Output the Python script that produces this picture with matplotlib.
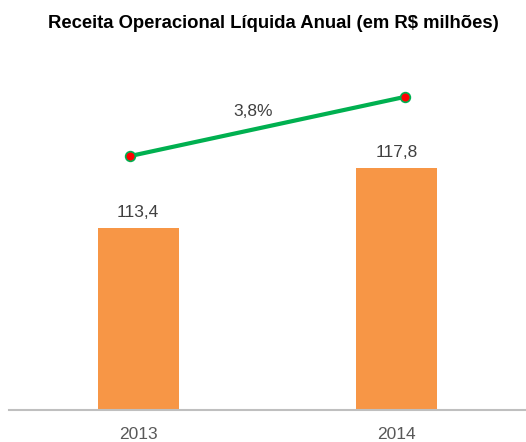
import matplotlib.pyplot as plt
from matplotlib import font_manager
import numpy as np

# data
anos = ['2013', '2014']
receita = [113.4, 117.8]
crescimento = [0.0, 3.8]
rotulo_cresc = '3,8%'

nomes = {f.name for f in font_manager.fontManager.ttflist}
if 'Liberation Sans Narrow' in nomes:
    plt.rcParams['font.family'] = ['Liberation Sans Narrow', 'DejaVu Sans']
    fs = 14.5
    fs_tit = 15
else:
    plt.rcParams['font.family'] = ['Liberation Sans', 'DejaVu Sans']
    fs = 12.5
    fs_tit = 13.3

fig = plt.figure(figsize=(5.26, 4.42), dpi=100)
ax = fig.add_axes([9 / 526, (442 - 410) / 442, 517 / 526, 350 / 442])

x = np.arange(len(anos))
ax.bar(x, receita, width=0.314, color='#F79646', zorder=2)
ax.set_xlim(-0.5, 1.5)
ax.set_ylim(100, 125.77)
for xi, v in zip(x, receita):
    ax.text(xi, v + 0.6, f'{v:.1f}'.replace('.', ','), ha='center', va='bottom',
            fontsize=fs, color='#404040')

ax.set_xticks(x)
ax.set_xticklabels(anos, fontsize=fs, color='#595959')
ax.tick_params(axis='x', length=0, pad=12)
ax.set_yticks([])
for s in ['top', 'right', 'left']:
    ax.spines[s].set_visible(False)
ax.spines['bottom'].set_color('#BFBFBF')
ax.spines['bottom'].set_linewidth(1.5)

# crescimento em outra escala
ax2 = ax.twinx()
ax2.set_ylim(-16.36, 6.18)
ax2.set_xlim(-0.5, 1.5)
xl = x + np.array([-0.03, 0.03])
ax2.plot(xl, crescimento, color='#00B050', linewidth=3, marker='o',
         markersize=7, markerfacecolor='#FF0000', markeredgecolor='#00B050',
         markeredgewidth=1.2, zorder=3)
ax2.text(xl.mean() - 0.055, np.mean(crescimento) + 0.5, rotulo_cresc, ha='center',
         va='bottom', fontsize=fs, color='#404040')
ax2.axis('off')

fig.text(0.52, 0.947, 'Receita Operacional Líquida Anual (em R$ milhões)',
         ha='center', va='center', fontsize=fs_tit, fontweight='bold', color='black')

fig.savefig('out.png', dpi=100)
